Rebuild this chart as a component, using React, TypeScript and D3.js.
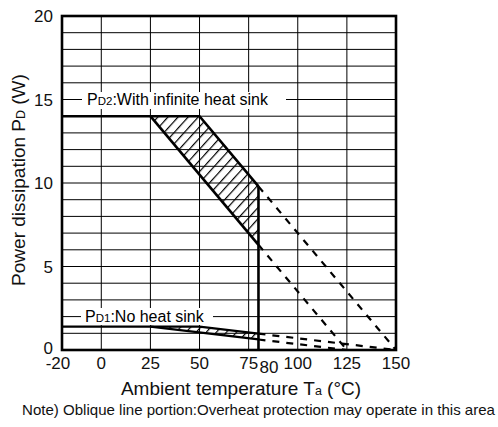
import React from "react";
import { scaleLinear, line, range } from "d3";

// ambient temperature (°C) / power dissipation (W)
const xTicks = [-20, 0, 25, 50, 75, 100, 125, 150];
const yTicks = [0, 5, 10, 15, 20];
const xGrid = [0, 25, 50, 75, 100, 125];
const yGrid = range(1, 20);

// PD2: with infinite heat sink
const pd2UpperTa = [-20, 50, 80];
const pd2UpperPd = [14, 14, 9.8];
const pd2LowerTa = [25, 80];
const pd2LowerPd = [14, 6.3];
const pd2DashUpperTa = [80, 150];
const pd2DashUpperPd = [9.8, 0];
const pd2DashLowerTa = [80, 125];
const pd2DashLowerPd = [6.3, 0];
const cutoffTa = [80, 80];
const cutoffPd = [9.8, 0];

// PD1: no heat sink
const pd1UpperTa = [-20, 50, 80];
const pd1UpperPd = [1.4, 1.4, 0.98];
const pd1LowerTa = [25, 80];
const pd1LowerPd = [1.4, 0.63];
const pd1DashUpperTa = [80, 150];
const pd1DashUpperPd = [0.98, 0];
const pd1DashLowerTa = [80, 125];
const pd1DashLowerPd = [0.63, 0];

const W = 498;
const H = 427;
const font = "'Liberation Sans', Arial, Helvetica, sans-serif";

const zip = (xs: number[], ys: number[]) => xs.map((v, i) => [v, ys[i]] as [number, number]);

export default function App() {
  const x = scaleLinear().domain([-20, 150]).range([62, 396]);
  const y = scaleLinear().domain([0, 20]).range([350, 16]);

  const path = line<[number, number]>()
    .x((d) => x(d[0]))
    .y((d) => y(d[1]));

  // hatched areas: upper edge then lower edge reversed
  const area = (ut: number[], up: number[], lt: number[], lp: number[]) => {
    const upper = zip(ut, up).filter((d) => d[0] >= lt[0]);
    const lower = zip(lt, lp).reverse();
    return path([...upper, ...lower]) + "Z";
  };
  const pd2Area = area(pd2UpperTa, pd2UpperPd, pd2LowerTa, pd2LowerPd);
  const pd1Area = area(pd1UpperTa, pd1UpperPd, pd1LowerTa, pd1LowerPd);

  const solid = { fill: "none", stroke: "#000", strokeWidth: 2.6, strokeLinejoin: "miter" as const };
  const dashed = { fill: "none", stroke: "#000", strokeWidth: 2.2, strokeDasharray: "7,7" };

  return (
    <svg width={W} height={H} style={{ position: "absolute", left: 0, top: 0 }} fontFamily={font}>
      <defs>
        <pattern id="hatch" patternUnits="userSpaceOnUse" width={7.5} height={7.5} patternTransform="rotate(42)">
          <line x1={0.6} y1={0} x2={0.6} y2={7.5} stroke="#000" strokeWidth={1.2} />
        </pattern>
      </defs>
      <rect width={W} height={H} fill="#fff" />

      {/* grid */}
      <g stroke="#000" strokeWidth={1}>
        {yGrid.map((v) => (
          <line key={"h" + v} x1={x(-20)} x2={x(150)} y1={y(v)} y2={y(v)} />
        ))}
        {xGrid.map((v) => (
          <line key={"v" + v} x1={x(v)} x2={x(v)} y1={y(20)} y2={y(0)} />
        ))}
      </g>

      {/* curve labels */}
      <rect x={82} y={92} width={204} height={17} fill="#fff" />
      <text x={87} y={y(15) + 5.6} fontSize={16}>
        P<tspan fontSize={11.5}>D2</tspan>:With infinite heat sink
      </text>
      <rect x={81} y={308} width={132} height={17} fill="#fff" />
      <text x={85} y={y(2) + 5.6} fontSize={16}>
        P<tspan fontSize={11.5}>D1</tspan>:No heat sink
      </text>

      {/* hatched regions */}
      <path d={pd2Area} fill="url(#hatch)" />
      <path d={pd1Area} fill="url(#hatch)" />

      {/* PD2 */}
      <path d={path(zip(pd2UpperTa, pd2UpperPd)) ?? ""} {...solid} />
      <path d={path(zip(pd2LowerTa, pd2LowerPd)) ?? ""} {...solid} />
      <path d={path(zip(cutoffTa, cutoffPd)) ?? ""} {...solid} />
      <path d={path(zip(pd2DashUpperTa, pd2DashUpperPd)) ?? ""} {...dashed} />
      <path d={path(zip(pd2DashLowerTa, pd2DashLowerPd)) ?? ""} {...dashed} />

      {/* PD1 */}
      <path d={path(zip(pd1UpperTa, pd1UpperPd)) ?? ""} {...solid} strokeWidth={2.3} />
      <path d={path(zip(pd1LowerTa, pd1LowerPd)) ?? ""} {...solid} strokeWidth={2.3} />
      <path d={path(zip(pd1DashUpperTa, pd1DashUpperPd)) ?? ""} {...dashed} />
      <path d={path(zip(pd1DashLowerTa, pd1DashLowerPd)) ?? ""} {...dashed} />

      {/* frame */}
      <rect x={x(-20)} y={y(20)} width={x(150) - x(-20)} height={y(0) - y(20)} fill="none" stroke="#000" strokeWidth={2.6} />

      {/* y ticks */}
      {yTicks.map((v) => (
        <text key={"yt" + v} x={53} y={y(v) - (v === 0 ? 2 : 0)} dy="0.36em" fontSize={17} textAnchor="end" fill="#111">
          {v}
        </text>
      ))}
      {/* x ticks */}
      {xTicks.map((v) => (
        <text key={"xt" + v} x={x(v) + (v < 0 ? -4 : 0)} y={369} fontSize={17} textAnchor="middle" fill="#111">
          {v}
        </text>
      ))}
      <text x={x(80) + 1} y={373} fontSize={17} textAnchor="start" fill="#111">
        80
      </text>

      {/* axis titles */}
      <text x={241} y={395} fontSize={19} textAnchor="middle" fill="#111">
        Ambient temperature T<tspan fontSize={12.5}>a</tspan> (°C)
      </text>
      <text transform={`translate(25,180) rotate(-90)`} fontSize={19} textAnchor="middle" fill="#111">
        Power dissipation P<tspan fontSize={12.5}>D</tspan> (W)
      </text>

      {/* note */}
      <text
        x={22}
        y={415}
        fontSize={15}
        fontFamily="'Liberation Sans Narrow', 'Arial Narrow', 'Liberation Sans', sans-serif"
        textLength={473}
        lengthAdjust="spacingAndGlyphs"
        fill="#111"
      >
        Note) Oblique line portion:Overheat protection may operate in this area
      </text>
    </svg>
  );
}
